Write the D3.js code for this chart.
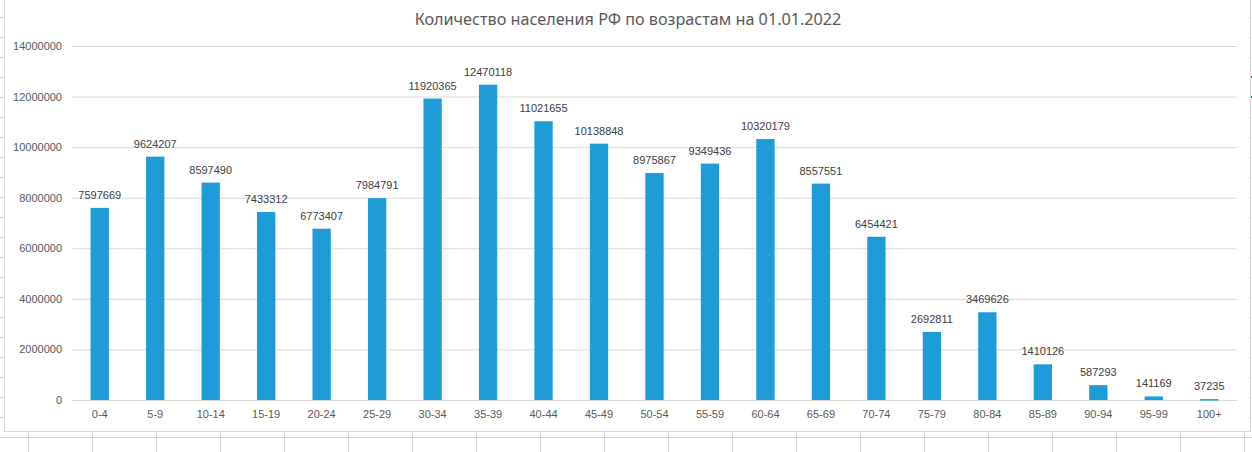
<!DOCTYPE html>
<html>
<head>
<meta charset="utf-8">
<script src="https://cdn.jsdelivr.net/npm/d3@7"></script>
<style>
  html, body { margin: 0; padding: 0; background: #fff; }
  svg { display: block; }
</style>
</head>
<body>
<div id="chart"></div>
<script>
const ageGroups = ['0-4', '5-9', '10-14', '15-19', '20-24', '25-29', '30-34', '35-39',
  '40-44', '45-49', '50-54', '55-59', '60-64', '65-69', '70-74', '75-79', '80-84',
  '85-89', '90-94', '95-99', '100+'];
const population = [7597669, 9624207, 8597490, 7433312, 6773407, 7984791, 11920365,
  12470118, 11021655, 10138848, 8975867, 9349436, 10320179, 8557551, 6454421,
  2692811, 3469626, 1410126, 587293, 141169, 37235];
const yTicks = [0, 2000000, 4000000, 6000000, 8000000, 10000000, 12000000, 14000000];
const title = 'Количество населения РФ по возрастам на 01.01.2022';

const W = 1252, H = 452;
const plot = { left: 72, right: 1237, top: 46, bottom: 400 };
const gridColor = '#d9d9d9';
const sheetLine = '#d4d4d4';

const svg = d3.select('#chart').append('svg')
  .attr('width', W)
  .attr('height', H)
  .style('background', '#fff');

// Spreadsheet cells peeking around the chart object
const sheet = svg.append('g').attr('class', 'sheet');
const rowLines = d3.range(17, 432, 20);
sheet.selectAll('line.row-left')
  .data(rowLines)
  .enter().append('line')
  .attr('x1', 0).attr('x2', 4)
  .attr('y1', d => d + 0.5).attr('y2', d => d + 0.5)
  .attr('stroke', sheetLine);
sheet.selectAll('line.row-right')
  .data(rowLines)
  .enter().append('line')
  .attr('x1', 1251).attr('x2', W)
  .attr('y1', d => d + 0.5).attr('y2', d => d + 0.5)
  .attr('stroke', sheetLine);
sheet.append('line')
  .attr('x1', 0).attr('x2', W)
  .attr('y1', 437.5).attr('y2', 437.5)
  .attr('stroke', sheetLine);
sheet.selectAll('line.col')
  .data(d3.range(28, W, 64))
  .enter().append('line')
  .attr('x1', d => d + 0.5).attr('x2', d => d + 0.5)
  .attr('y1', 432).attr('y2', H)
  .attr('stroke', sheetLine);
sheet.selectAll('rect.mark')
  .data([77, 97])
  .enter().append('rect')
  .attr('x', 1251).attr('y', d => d - 1)
  .attr('width', 1).attr('height', 2)
  .attr('fill', '#217346');

// Chart object
svg.append('rect')
  .attr('x', 4.5).attr('y', -5)
  .attr('width', 1246).attr('height', 436.5)
  .attr('fill', '#fff')
  .attr('stroke', '#d9d9d9');

const x = d3.scaleBand()
  .domain(ageGroups)
  .range([plot.left, plot.right])
  .paddingInner(0.67)
  .paddingOuter(0.335);

const y = d3.scaleLinear()
  .domain([0, 14000000])
  .range([plot.bottom, plot.top]);

// Gridlines and y labels
const yAxis = d3.axisLeft(y)
  .tickValues(yTicks)
  .tickSize(-(plot.right - plot.left))
  .tickPadding(10)
  .tickFormat(d3.format('d'));

const yG = svg.append('g')
  .attr('transform', `translate(${plot.left},0)`)
  .call(yAxis);
yG.select('.domain').remove();
yG.selectAll('.tick line').attr('stroke', gridColor);
yG.selectAll('.tick text')
  .attr('fill', '#595959')
  .attr('font-family', '"Liberation Sans", Arial, sans-serif')
  .attr('font-size', '11px');

// X axis labels
const xAxis = d3.axisBottom(x).tickSize(0).tickPadding(10);
const xG = svg.append('g')
  .attr('transform', `translate(0,${plot.bottom})`)
  .call(xAxis);
xG.select('.domain').attr('stroke', gridColor);
xG.selectAll('.tick text')
  .attr('fill', '#595959')
  .attr('font-family', '"Liberation Sans", Arial, sans-serif')
  .attr('font-size', '11px');

// Bars (drawn over the axis line so the tiny 100+ bar stays blue)
svg.append('g')
  .selectAll('rect')
  .data(population)
  .enter().append('rect')
  .attr('x', (d, i) => x(ageGroups[i]))
  .attr('y', d => y(d))
  .attr('width', x.bandwidth())
  .attr('height', d => Math.max(plot.bottom - y(d), 1.5))
  .attr('fill', '#1e9cd8');

// Value labels
svg.append('g')
  .selectAll('text')
  .data(population)
  .enter().append('text')
  .attr('x', (d, i) => x(ageGroups[i]) + x.bandwidth() / 2)
  .attr('y', d => y(d) - 9)
  .attr('text-anchor', 'middle')
  .attr('font-family', '"Liberation Sans", Arial, sans-serif')
  .attr('font-size', '11px')
  .attr('fill', '#404040')
  .text(d => d);

// Title
svg.append('text')
  .attr('x', 628)
  .attr('y', 25)
  .attr('text-anchor', 'middle')
  .attr('font-family', '"Noto Sans", "Open Sans", sans-serif')
  .attr('font-size', '16.2px')
  .attr('fill', '#595959')
  .text(title);
</script>
</body>
</html>
